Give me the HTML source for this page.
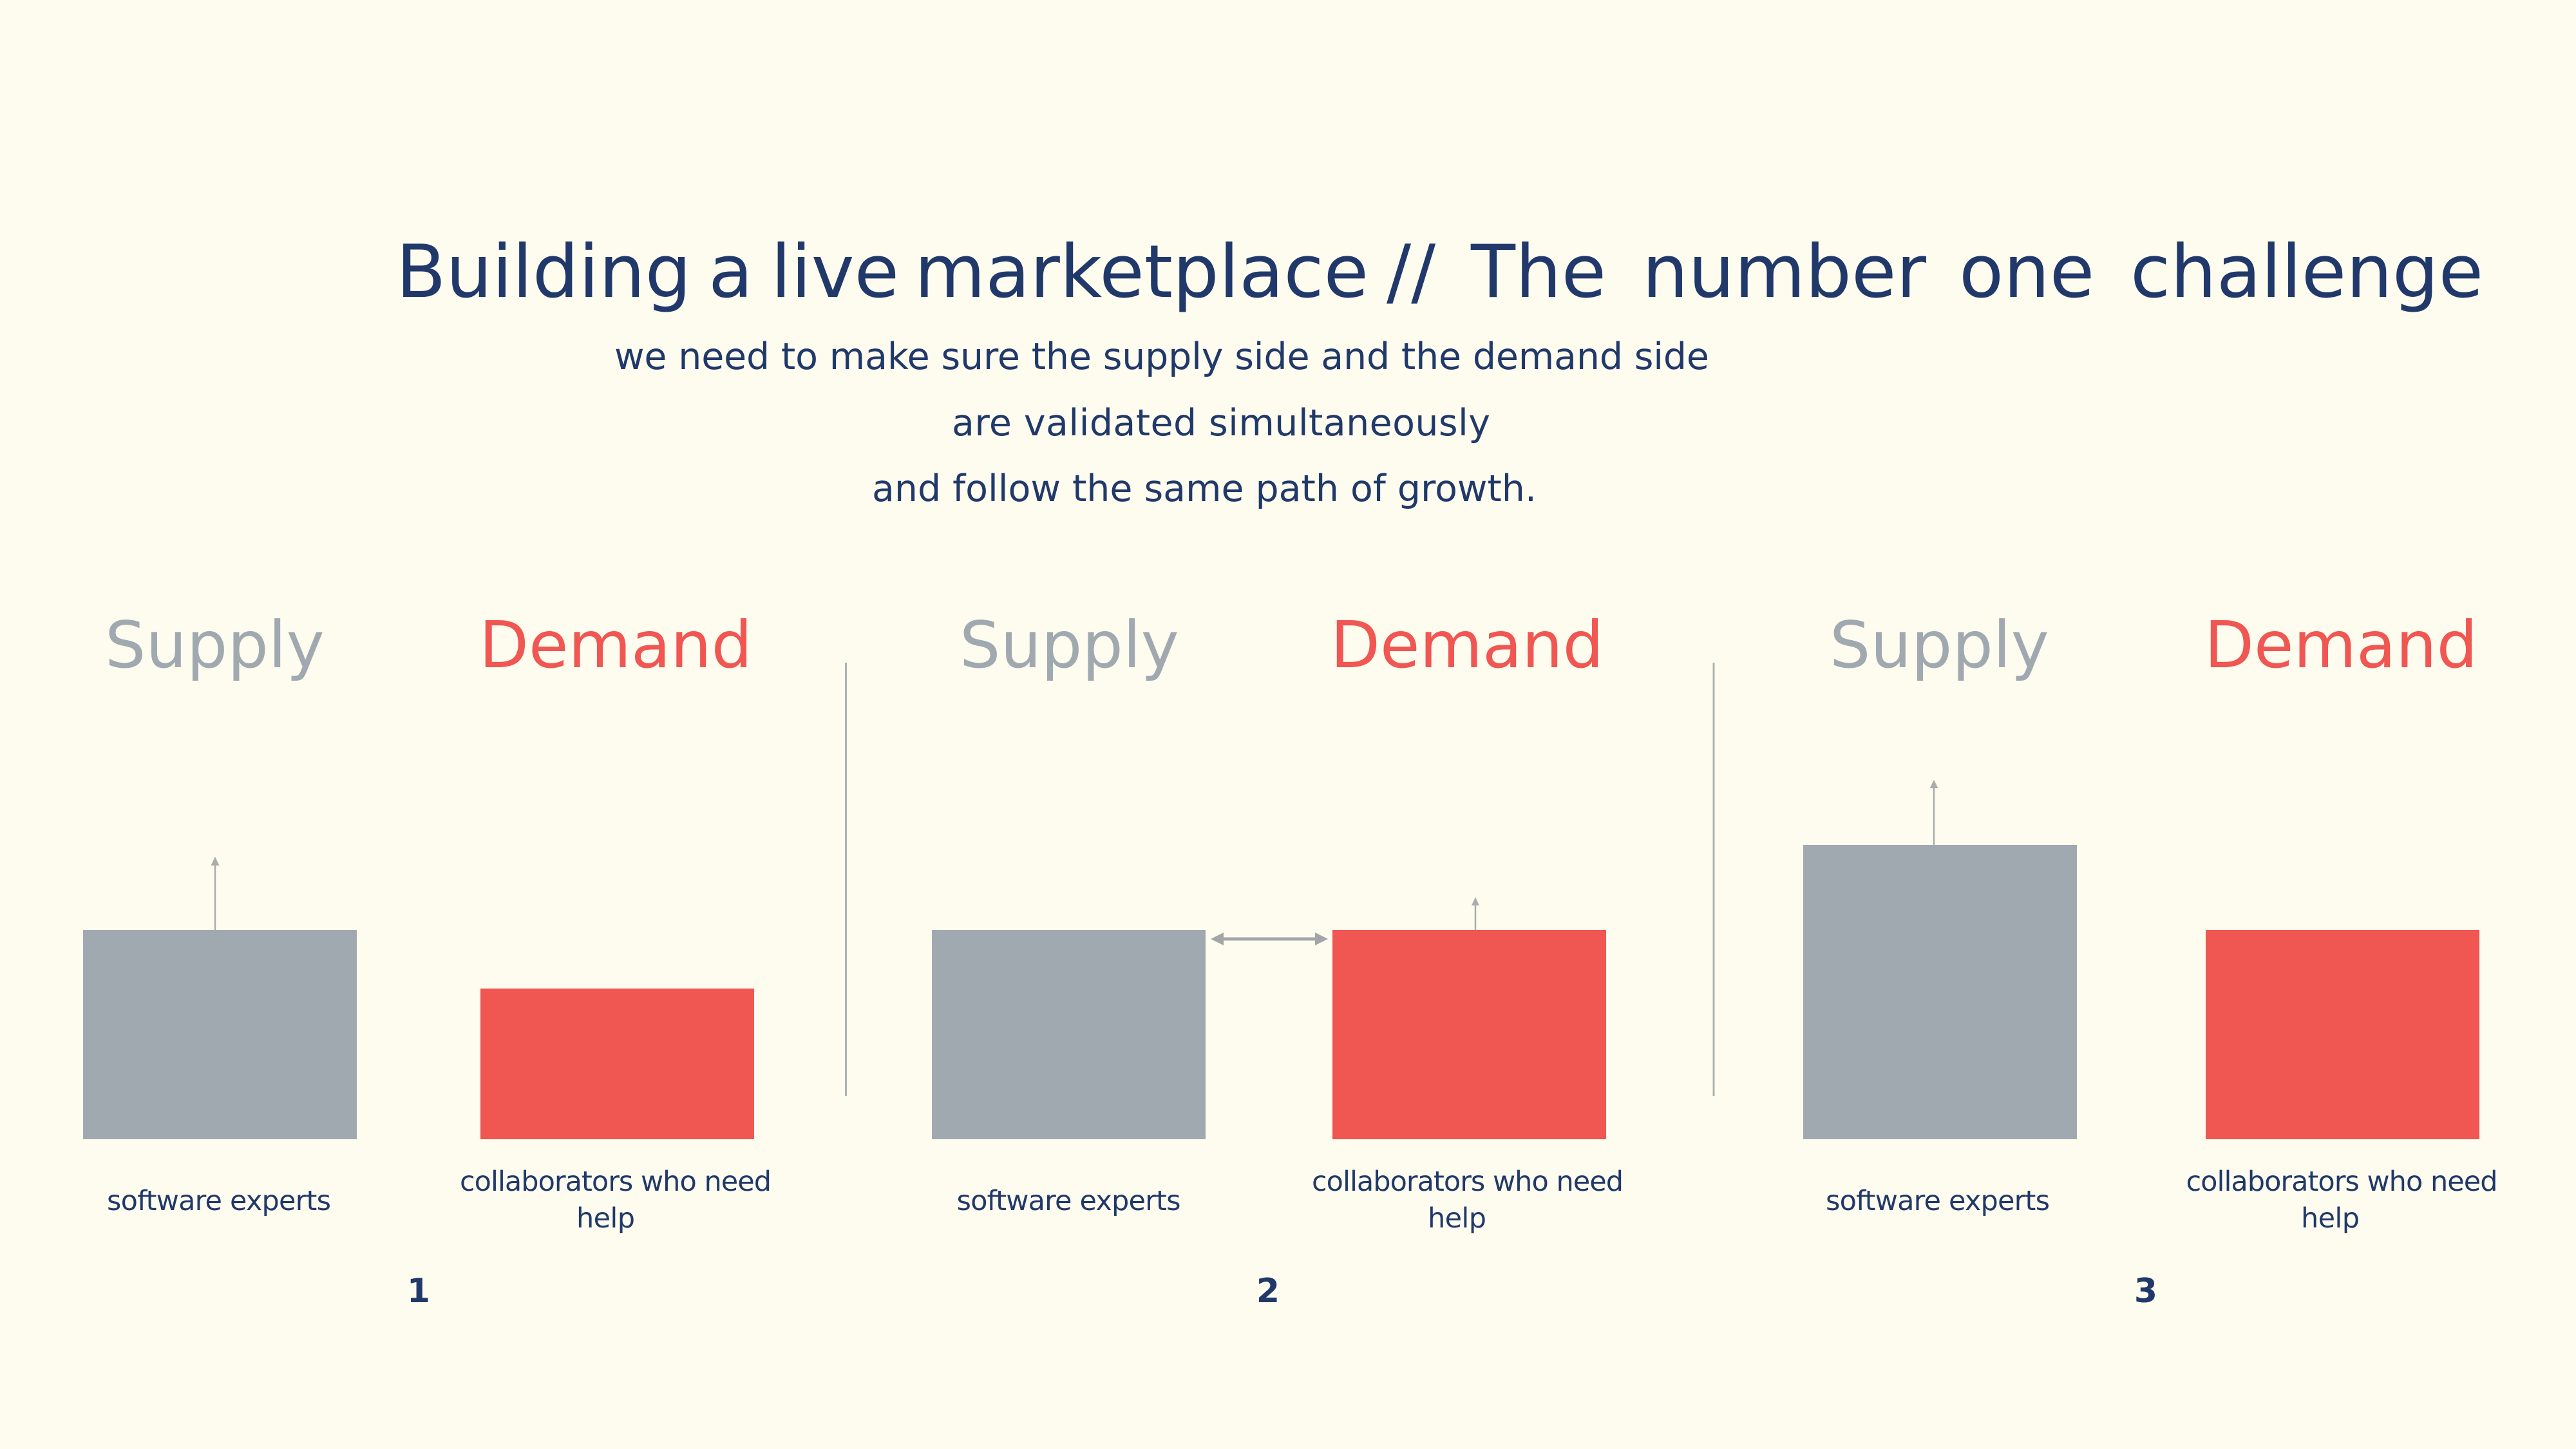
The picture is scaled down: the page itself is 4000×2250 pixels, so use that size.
<!DOCTYPE html>
<html>
<head>
<meta charset="utf-8">
<style>
  html, body { margin: 0; padding: 0; background: #fefcef; }
  svg { display: block; }
  text { font-family: "DejaVu Sans", "Liberation Sans", sans-serif; }
</style>
</head>
<body>
<svg width="4000" height="2250" viewBox="0 0 4000 2250" xmlns="http://www.w3.org/2000/svg">
  <rect x="0" y="0" width="4000" height="2250" fill="#fefcef"/>

  <!-- Title -->
  <g fill="#21396a" font-size="113">
    <text x="615" y="461">Building</text>
    <text x="1100" y="461">a</text>
    <text x="1197" y="461">live</text>
    <text x="1420" y="461">marketplace</text>
    <text x="2153" y="461">//</text>
    <text x="2284" y="461">The</text>
    <text x="2550" y="461">number</text>
    <text x="3042" y="461">one</text>
    <text x="3308" y="461">challenge</text>
  </g>

  <!-- Subtitle -->
  <g fill="#21396a" font-size="57">
    <text x="954" y="573" textLength="1700" lengthAdjust="spacing">we need to make sure the supply side and the demand side</text>
    <text x="1478" y="676" textLength="836" lengthAdjust="spacing">are validated simultaneously</text>
    <text x="1354" y="778" textLength="1032" lengthAdjust="spacing">and follow the same path of growth.</text>
  </g>

  <!-- Supply / Demand headings -->
  <g font-size="100">
    <text x="163" y="1036" fill="#a1a9b0">Supply</text>
    <text x="744" y="1036" fill="#f05652">Demand</text>
    <text x="1490" y="1036" fill="#a1a9b0">Supply</text>
    <text x="2066" y="1036" fill="#f05652">Demand</text>
    <text x="2841" y="1036" fill="#a1a9b0">Supply</text>
    <text x="3423" y="1036" fill="#f05652">Demand</text>
  </g>

  <!-- Dividers -->
  <line x1="1313.5" y1="1029" x2="1313.5" y2="1702" stroke="#adb3b0" stroke-width="3"/>
  <line x1="2661" y1="1029" x2="2661" y2="1702" stroke="#adb3b0" stroke-width="3"/>

  <!-- Bars -->
  <rect x="129" y="1444" width="425" height="325" fill="#a1a9b0"/>
  <rect x="746" y="1535" width="425" height="234" fill="#f05652"/>
  <rect x="1447" y="1444" width="425" height="325" fill="#a1a9b0"/>
  <rect x="2069" y="1444" width="425" height="325" fill="#f05652"/>
  <rect x="2800" y="1312" width="425" height="457" fill="#a1a9b0"/>
  <rect x="3425" y="1444" width="425" height="325" fill="#f05652"/>

  <!-- Arrows -->
  <g stroke="#aaadab" stroke-width="2.5" fill="none">
    <line x1="334" y1="1444" x2="334" y2="1342"/>
    <line x1="2291" y1="1444" x2="2291" y2="1404"/>
    <line x1="3003" y1="1312" x2="3003" y2="1222"/>
  </g>
  <g fill="#aaadab">
    <polygon points="334,1330 327.5,1344 340.5,1344"/>
    <polygon points="2291,1393 2285,1406 2297,1406"/>
    <polygon points="3003,1211 2996.5,1224 3009.5,1224"/>
  </g>
  <!-- Double arrow -->
  <line x1="1898" y1="1458" x2="2044" y2="1458" stroke="#a3a6a7" stroke-width="5"/>
  <polygon points="1880,1458 1900,1448 1900,1468" fill="#a3a6a7"/>
  <polygon points="2062,1458 2042,1448 2042,1468" fill="#a3a6a7"/>

  <!-- Bottom labels -->
  <g fill="#21396a" font-size="43" text-anchor="middle">
    <text x="340" y="1879" textLength="348" lengthAdjust="spacing">software experts</text>
    <text x="956" y="1849" textLength="484" lengthAdjust="spacing">collaborators who need</text>
    <text x="940.5" y="1906" textLength="91" lengthAdjust="spacing">help</text>

    <text x="1659.5" y="1879" textLength="348" lengthAdjust="spacing">software experts</text>
    <text x="2279" y="1849" textLength="484" lengthAdjust="spacing">collaborators who need</text>
    <text x="2262.5" y="1906" textLength="91" lengthAdjust="spacing">help</text>

    <text x="3009" y="1879" textLength="348" lengthAdjust="spacing">software experts</text>
    <text x="3636.5" y="1849" textLength="484" lengthAdjust="spacing">collaborators who need</text>
    <text x="3618.5" y="1906" textLength="91" lengthAdjust="spacing">help</text>
  </g>

  <!-- Panel numbers -->
  <g fill="#21396a" font-size="52" font-weight="bold" text-anchor="middle">
    <text x="650" y="2022">1</text>
    <text x="1969" y="2022">2</text>
    <text x="3332" y="2022">3</text>
  </g>
</svg>
</body>
</html>
